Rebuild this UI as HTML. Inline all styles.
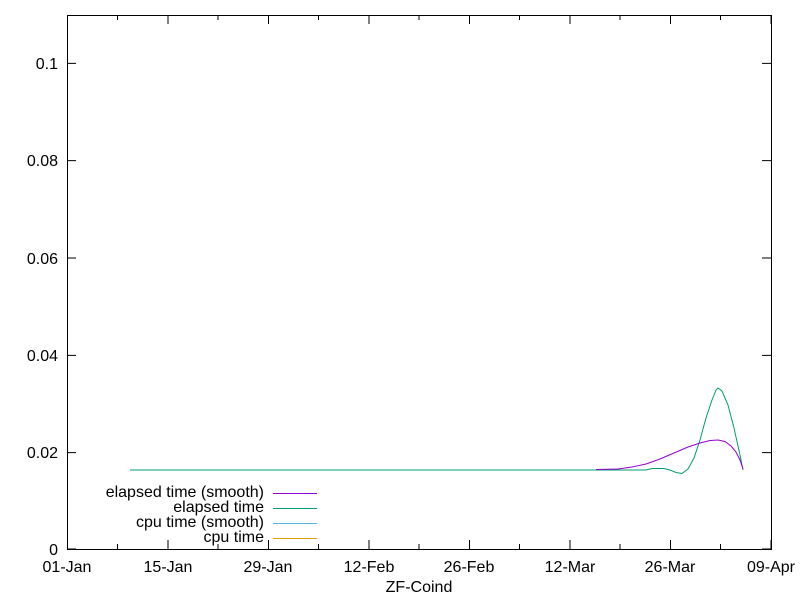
<!DOCTYPE html>
<html><head><style>body{margin:0;background:#fff}svg{display:block}</style></head><body>
<svg width="800" height="600" xmlns="http://www.w3.org/2000/svg" font-family="Liberation Sans, sans-serif" font-size="16">
<rect x="67.5" y="15.5" width="704" height="534" fill="none" stroke="#000"/>
<g stroke="#000">
<path d="M67 549h9M771 549h-9M67 452.6h9M771 452.6h-9M67 355.4h9M771 355.4h-9M67 258h9M771 258h-9M67 160.6h9M771 160.6h-9M67 63.4h9M771 63.4h-9"/>
<path d="M67.5 549v-9M67.5 15v9M168 549v-9M168 15v9M268.5 549v-9M268.5 15v9M369 549v-9M369 15v9M469.5 549v-9M469.5 15v9M570 549v-9M570 15v9M670.5 549v-9M670.5 15v9M771 549v-9M771 15v9"/>
<path d="M117.5 549v-5M117.5 15v5M218 549v-5M218 15v5M318.5 549v-5M318.5 15v5M419 549v-5M419 15v5M519.5 549v-5M519.5 15v5M620 549v-5M620 15v5M720.5 549v-5M720.5 15v5"/>
</g>
<g text-anchor="end">
<text x="58" y="555">0</text><text x="58" y="458">0.02</text><text x="58" y="361">0.04</text><text x="58" y="264">0.06</text><text x="58" y="166">0.08</text><text x="58" y="69">0.1</text>
</g>
<g text-anchor="middle">
<text x="67" y="572">01-Jan</text><text x="168" y="572">15-Jan</text><text x="268" y="572">29-Jan</text><text x="369" y="572">12-Feb</text><text x="469" y="572">26-Feb</text><text x="570" y="572">12-Mar</text><text x="670" y="572">26-Mar</text><text x="771" y="572">09-Apr</text>
<text x="419" y="592">ZF-Coind</text>
</g>
<g text-anchor="end">
<text x="264" y="497">elapsed time (smooth)</text><text x="264" y="512">elapsed time</text><text x="264" y="527">cpu time (smooth)</text><text x="264" y="542">cpu time</text>
</g>
<g shape-rendering="crispEdges">
<path d="M273 493.5h44" stroke="#9400d3"/><path d="M273 508.5h44" stroke="#009e73"/><path d="M273 523.5h44" stroke="#56b4e9"/><path d="M273 538.5h44" stroke="#e69f00"/>
</g>
<polyline fill="none" stroke="#009e73" stroke-width="1" points="130,470 646,470 652,468.5 664,468.5 670,470 676,472.5 682,473.5 688,469 694,458 700,440 706,418 712,400 716,390 718,388 722,391 728,405 734,428 740,455 743,470"/>
<polyline fill="none" stroke="#9400d3" stroke-width="1" points="596,469.5 618,469 632,467 646,464 660,459 674,453 688,447 700,443 710,440.5 718,440 725,441.5 731,446 736,452 740,460 743,469"/>
</svg>
</body></html>
